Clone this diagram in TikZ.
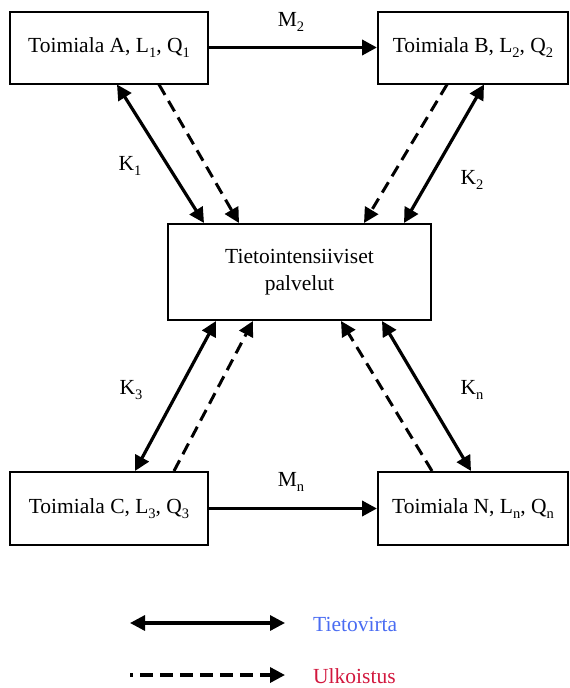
\documentclass[tikz,border=0pt]{standalone}
\usepackage{fontspec}
\setmainfont{Liberation Serif}
\usetikzlibrary{arrows.meta}
\definecolor{flowblue}{HTML}{4A6CF2}
\definecolor{outred}{HTML}{D2183E}
\newcommand\sbs[1]{\raisebox{-0.5ex}{\fontsize{14.5}{14.5}\selectfont #1}}
\begin{document}
\begin{tikzpicture}[x=1pt,y=-1pt,
  font=\fontsize{21.5}{27}\selectfont,
  box/.style={draw,line width=2pt,inner sep=0pt,align=center},
  flow/.style={line width=3.2pt,{Triangle[length=15pt,width=15pt]}-{Triangle[length=15pt,width=15pt]}},
  outs/.style={line width=3pt,dash pattern=on 12pt off 7pt,-{Triangle[length=15pt,width=15pt]}},
  mflow/.style={line width=3.8pt,-{Triangle[length=15pt,width=15pt]}},
  lbl/.style={inner sep=0pt}]
\useasboundingbox (0,0) rectangle (570,688);
\node[box,minimum width=198pt,minimum height=72pt] (A) at (109,47.5) {Toimiala A, L\sbs{1}, Q\sbs{1}};
\node[box,minimum width=190pt,minimum height=72pt] (B) at (473,47.5) {Toimiala B, L\sbs{2}, Q\sbs{2}};
\node[box,minimum width=263pt,minimum height=96pt] (P) at (299.5,272) {Tietointensiiviset\\palvelut};
\node[box,minimum width=198pt,minimum height=73pt] (C) at (109,508.5) {Toimiala C, L\sbs{3}, Q\sbs{3}};
\node[box,minimum width=190pt,minimum height=73pt] (N) at (473,508.5) {Toimiala N, L\sbs{n}, Q\sbs{n}};
% border points
\coordinate (a1) at ([xshift=108pt]A.south west);
\coordinate (a2) at ([xshift=150pt]A.south west);
\coordinate (b1) at ([xshift=70pt]B.south west);
\coordinate (b2) at ([xshift=107pt]B.south west);
\coordinate (c1) at ([xshift=126pt]C.north west);
\coordinate (c2) at ([xshift=165pt]C.north west);
\coordinate (n1) at ([xshift=55pt]N.north west);
\coordinate (n2) at ([xshift=94pt]N.north west);
\coordinate (pt1) at ([xshift=37pt]P.north west);
\coordinate (pt2) at ([xshift=72pt]P.north west);
\coordinate (pt3) at ([xshift=197pt]P.north west);
\coordinate (pt4) at ([xshift=237pt]P.north west);
\coordinate (pb1) at ([xshift=49pt]P.south west);
\coordinate (pb2) at ([xshift=86pt]P.south west);
\coordinate (pb3) at ([xshift=174pt]P.south west);
\coordinate (pb4) at ([xshift=215pt]P.south west);
% horizontal flows
\draw[mflow] (A.east) -- (B.west);
\draw[mflow] (C.east) -- (N.west);
\node[lbl] (m2) at (291,22) {M\sbs{2}};
\node[lbl] (mn) at (291,482) {M\sbs{n}};
% diagonal
\draw[flow] (a1) -- (pt1);
\draw[outs] (a2) -- (pt2);
\draw[outs] (b1) -- (pt3);
\draw[flow] (b2) -- (pt4);
\draw[flow] (pb1) -- (c1);
\draw[outs] (c2) -- (pb2);
\draw[outs] (n1) -- (pb3);
\draw[flow] (pb4) -- (n2);
\node[lbl] (k1) at (130,166) {K\sbs{1}};
\node[lbl] (k2) at (472,180) {K\sbs{2}};
\node[lbl] (k3) at (131,390) {K\sbs{3}};
\node[lbl] (kn) at (472,390) {K\sbs{n}};
% legend
\coordinate (l1a) at (130,623);
\coordinate (l1b) at (285,623);
\coordinate (l2a) at (130,675);
\coordinate (l2b) at (285,675);
\draw[flow] (l1a) -- (l1b);
\draw[outs,line width=3.4pt,dash pattern=on 13pt off 7pt,dash phase=10pt] (l2a) -- (l2b);
\node[lbl,anchor=west,text=flowblue] (t1) at (313,624) {Tietovirta};
\node[lbl,anchor=west,text=outred] (t2) at (313,676) {Ulkoistus};
\end{tikzpicture}
\end{document}
